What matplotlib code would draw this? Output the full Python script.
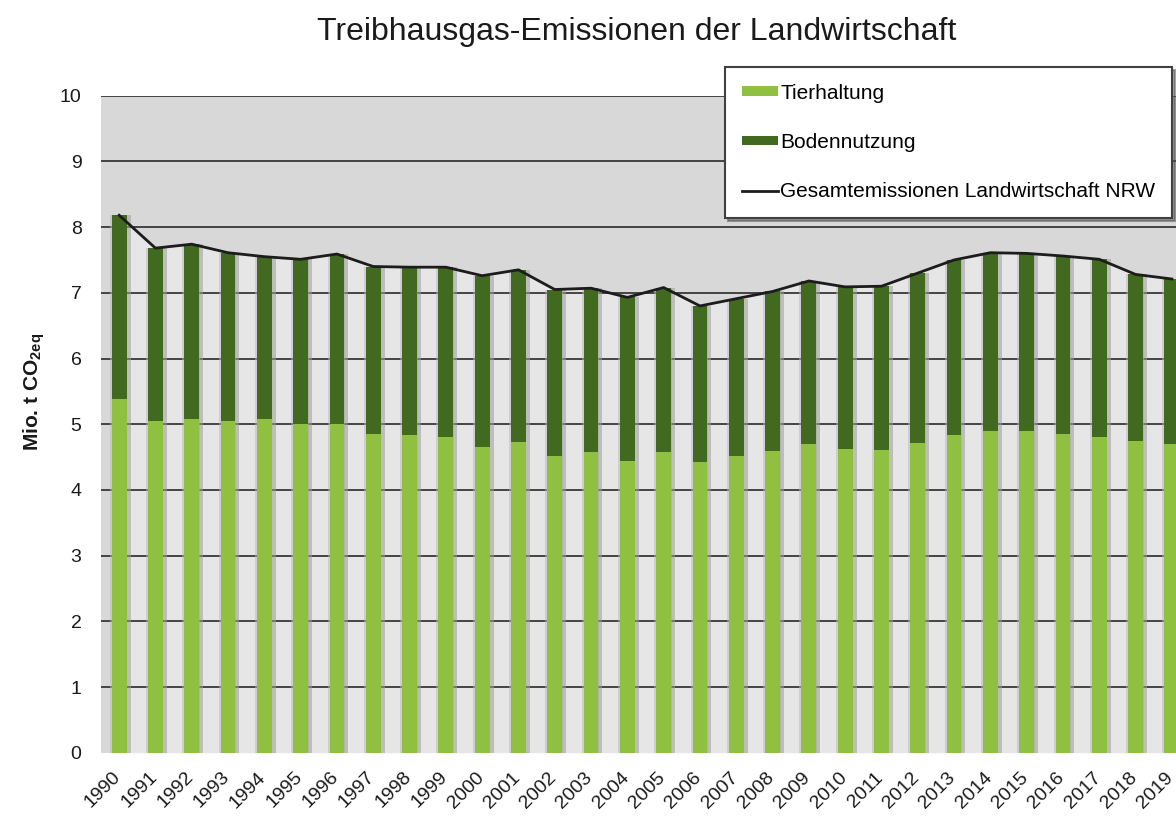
import matplotlib
matplotlib.use("Agg")
import matplotlib.pyplot as plt
import matplotlib.transforms as mtransforms
import numpy as np

years = [str(y) for y in range(1990, 2020)]
tierhaltung = [5.39, 5.05, 5.08, 5.05, 5.08, 5.00, 5.01, 4.85, 4.84, 4.80,
               4.66, 4.73, 4.52, 4.58, 4.44, 4.58, 4.42, 4.51, 4.59, 4.70,
               4.63, 4.60, 4.72, 4.84, 4.89, 4.89, 4.85, 4.81, 4.75, 4.70]
bodennutzung = [2.79, 2.63, 2.66, 2.56, 2.47, 2.51, 2.58, 2.55, 2.55, 2.59,
                2.60, 2.62, 2.53, 2.49, 2.49, 2.50, 2.38, 2.40, 2.43, 2.48,
                2.46, 2.50, 2.58, 2.66, 2.72, 2.71, 2.71, 2.70, 2.53, 2.51]
gesamt = [8.18, 7.68, 7.74, 7.61, 7.55, 7.51, 7.59, 7.40, 7.39, 7.39,
          7.26, 7.35, 7.05, 7.07, 6.93, 7.08, 6.80, 6.91, 7.02, 7.18,
          7.09, 7.10, 7.30, 7.50, 7.61, 7.60, 7.56, 7.51, 7.28, 7.21]
yticks = list(range(0, 11))

plt.rcParams['font.family'] = ['Liberation Sans', 'DejaVu Sans']
plt.rcParams['mathtext.fontset'] = 'custom'
plt.rcParams['mathtext.rm'] = 'Liberation Sans'
plt.rcParams['mathtext.bf'] = 'Liberation Sans:bold'

fig = plt.figure(figsize=(11.76, 8.18), dpi=100)
ax = fig.add_axes([101 / 1176, 1 - 752.7 / 818, 1089 / 1176, 657 / 818])

x = np.arange(len(years))
bw = 0.41

ax.set_facecolor('#d8d8d8')
ax.fill_between(x, 0, gesamt, color='#e6e6e6', zorder=0.5, linewidth=0)

# soft shadows beside bars
ax.bar(x + 0.06, gesamt, width=bw + 0.10, color='#9c9c9c', alpha=0.55, zorder=1.5, linewidth=0)
ax.bar(x - 0.02, gesamt, width=bw + 0.07, color='#b8b8b8', alpha=0.5, zorder=1.4, linewidth=0)

ax.bar(x, tierhaltung, width=bw, color='#8fc03f', zorder=3, linewidth=0, label='Tierhaltung')
ax.bar(x, bodennutzung, width=bw, bottom=tierhaltung, color='#41691f', zorder=3, linewidth=0,
       label='Bodennutzung')
ax.plot(x, gesamt, color='#1c1c1c', lw=2.0, zorder=4, label='Gesamtemissionen Landwirtschaft NRW')

ax.set_xlim(-0.5, len(years) - 0.5)
ax.set_ylim(0, 10)
ax.set_yticks(yticks)
ax.set_yticklabels([str(t) for t in yticks])
for t in yticks[1:]:
    ax.axhline(t, color='#383838', lw=1.3, zorder=1)
ax.set_xticks(x)
ax.set_xticklabels(years, rotation=45, ha='right', va='top', rotation_mode='anchor')
ax.tick_params(axis='both', length=0, labelsize=14, colors='#1a1a1a')
ax.tick_params(axis='y', pad=14)
ax.tick_params(axis='x', pad=0)
off = mtransforms.ScaledTranslation(-0.07, -0.16, fig.dpi_scale_trans)
for lbl in ax.get_xticklabels():
    lbl.set_transform(lbl.get_transform() + off)
for s in ax.spines.values():
    s.set_visible(False)

fig.text(637 / 1176, 1 - 32 / 818, 'Treibhausgas-Emissionen der Landwirtschaft',
         ha='center', va='center', fontsize=23, color='#1a1a1a')
fig.text(34 / 1176, 1 - 392 / 818, r'Mio. t CO$_{\mathbf{2eq}}$', rotation=90,
         ha='center', va='center', fontsize=15, fontweight='bold', color='#1a1a1a')

h, l = ax.get_legend_handles_labels()
order = [1, 2, 0]
leg = fig.legend([h[i] for i in order], [l[i] for i in order],
                 loc='upper left', bbox_to_anchor=(725 / 1176, 1 - 67 / 818),
                 fontsize=15, frameon=True, fancybox=False, shadow=True,
                 handlelength=1.75, handleheight=0.33, handletextpad=0.1,
                 labelspacing=1.45, borderpad=0.8, borderaxespad=0)
leg.get_frame().set_edgecolor('#404040')
leg.get_frame().set_linewidth(1.5)
leg.get_frame().set_facecolor('white')
leg.set_zorder(10)

fig.savefig('out.png', dpi=100)
